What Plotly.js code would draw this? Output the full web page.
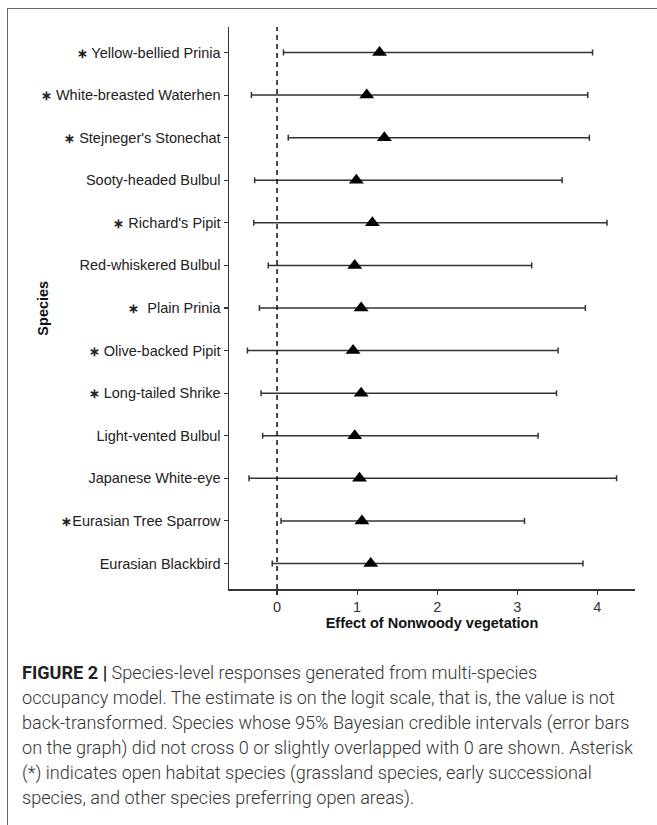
<!DOCTYPE html>
<html>
<head>
<meta charset="utf-8">
<script src="https://cdn.plot.ly/plotly-3.0.1.min.js"></script>
<style>
  html, body { margin: 0; padding: 0; background: #fff; }
  #wrap { position: relative; width: 657px; height: 825px; overflow: hidden; }
  #frame { position: absolute; left: 7px; top: 8px; width: 700px; height: 900px;
           border-top: 1.5px solid #666; border-left: 1.5px solid #666; pointer-events: none; }
  #chart { position: absolute; left: 0; top: 0; width: 657px; height: 825px; }
  #caption { position: absolute; left: 22px; top: 660px; white-space: nowrap;
             font-family: Roboto, "Liberation Sans", sans-serif; font-weight: 300;
             font-size: 18.1px; line-height: 25px; color: #333; }
  #caption b { font-weight: 700; color: #222; }
</style>
</head>
<body>
<div id="wrap">
  <div id="chart"></div>
  <div id="frame"></div>
  <div id="caption"><b>FIGURE 2 |</b> Species-level responses generated from multi-species<br>occupancy model. The estimate is on the logit scale, that is, the value is not<br>back-transformed. Species whose 95% Bayesian credible intervals (error bars<br>on the graph) did not cross 0 or slightly overlapped with 0 are shown. Asterisk<br>(*) indicates open habitat species (grassland species, early successional<br>species, and other species preferring open areas).</div>
</div>
<script>
// Species, top to bottom as drawn; AST marks open-habitat species
const AST = '<span style="font-size:13px"><b>\u2217</b></span>';
const species = [
  AST + " Yellow-bellied Prinia",
  AST + " White-breasted Waterhen",
  AST + " Stejneger's Stonechat",
  "Sooty-headed Bulbul",
  AST + " Richard's Pipit",
  "Red-whiskered Bulbul",
  AST + "\u00a0\u00a0Plain Prinia",
  AST + " Olive-backed Pipit",
  AST + " Long-tailed Shrike",
  "Light-vented Bulbul",
  "Japanese White-eye",
  AST + "Eurasian Tree Sparrow",
  "Eurasian Blackbird"
];
const estimate = [1.28, 1.12, 1.34, 0.99, 1.19, 0.97, 1.05, 0.95, 1.05, 0.97, 1.03, 1.06, 1.17];
const lower    = [0.08, -0.32, 0.14, -0.28, -0.29, -0.11, -0.22, -0.37, -0.20, -0.18, -0.35, 0.05, -0.06];
const upper    = [3.94, 3.88, 3.90, 3.56, 4.12, 3.18, 3.85, 3.51, 3.49, 3.26, 4.24, 3.09, 3.82];
const xTicks   = [0, 1, 2, 3, 4];

const trace = {
  type: 'scatter', mode: 'markers',
  x: estimate, y: species,
  marker: { symbol: 'triangle-up', size: 13, color: '#000' },
  error_x: {
    type: 'data', symmetric: false,
    array: upper.map((u, i) => u - estimate[i]),
    arrayminus: lower.map((l, i) => estimate[i] - l),
    color: '#333', thickness: 1.5, width: 3
  },
  hoverinfo: 'x+y', showlegend: false
};

const layout = {
  width: 657, height: 825,
  margin: { l: 229, r: 22, t: 27, b: 236 },
  paper_bgcolor: 'rgba(0,0,0,0)', plot_bgcolor: '#fff',
  font: { family: 'Arial, "Liberation Sans", sans-serif', size: 14.5, color: '#222' },
  xaxis: {
    range: [-0.6, 4.47], tickvals: xTicks, ticktext: xTicks.map(String),
    showgrid: false, zeroline: false,
    showline: true, linecolor: '#333', linewidth: 1.5,
    ticks: 'outside', ticklen: 4, tickwidth: 1.2, tickcolor: '#333',
    tickfont: { size: 14.5, color: '#333' },
    title: { text: '<b>Effect of Nonwoody vegetation</b>', font: { size: 14.5, color: '#111' }, standoff: 2 }
  },
  yaxis: {
    type: 'category', categoryorder: 'array', categoryarray: species.slice().reverse(),
    range: [-0.6, 12.6],
    showgrid: false, zeroline: false,
    showline: true, linecolor: '#333', linewidth: 1.5,
    ticks: 'outside', ticklen: 4, tickwidth: 1.2, tickcolor: '#333',
    tickfont: { size: 14.5, color: '#222' },
    automargin: false
  },
  shapes: [{
    type: 'line', xref: 'x', yref: 'paper', x0: 0, x1: 0, y0: 0, y1: 1,
    line: { color: '#111', width: 1.5, dash: '5px,4px' }
  }],
  annotations: [{
    text: '<b>Species</b>', xref: 'paper', yref: 'paper',
    x: -0.459, y: 0.5, xanchor: 'center', yanchor: 'middle',
    textangle: -90, showarrow: false, font: { size: 14.5, color: '#111' }
  }]
};

Plotly.newPlot('chart', [trace], layout, { displayModeBar: false, staticPlot: true });
</script>
</body>
</html>
